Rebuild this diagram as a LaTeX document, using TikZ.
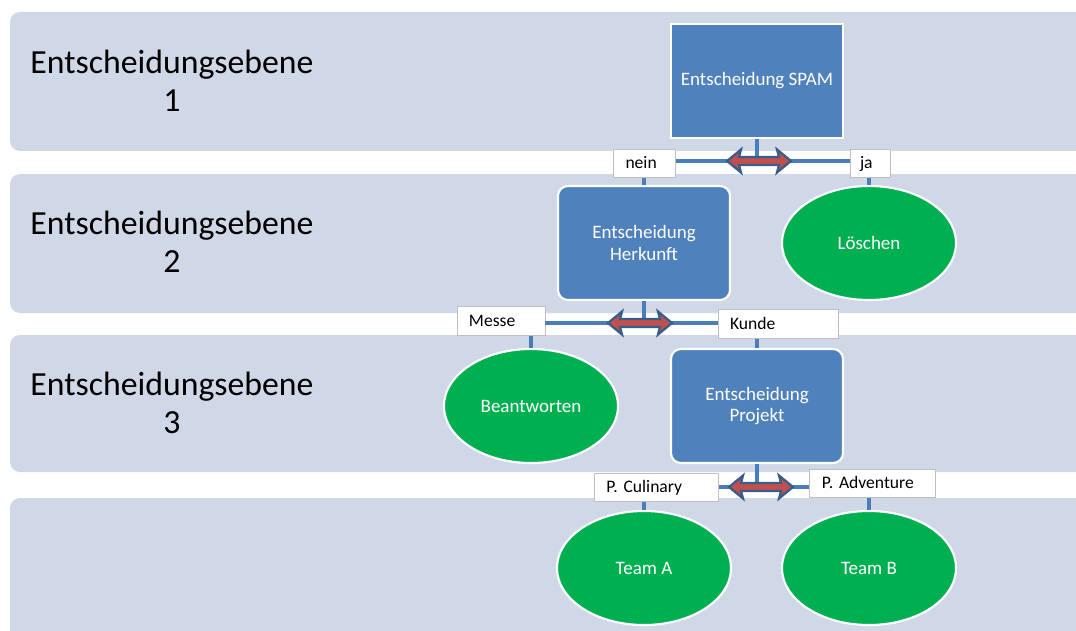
\documentclass[tikz,border=0pt]{standalone}
\usepackage{fontspec}
\setmainfont{Carlito}
\usetikzlibrary{shapes.geometric, positioning}

\definecolor{laneblue}{HTML}{D0D8E8}
\definecolor{boxblue}{HTML}{4F81BD}
\definecolor{goodgreen}{HTML}{00B050}
\definecolor{linkblue}{HTML}{4A7EBB}
\definecolor{swapred}{HTML}{C0504D}
\definecolor{swapline}{HTML}{385D8A}
\definecolor{lblgray}{HTML}{BFBFBF}

\begin{document}
\frenchspacing
\begin{tikzpicture}[
    x=0.025cm, y=-0.025cm,
    lane/.style={fill=laneblue, rounded corners=0.25cm},
    lanetext/.style={align=center, font=\fontsize{24}{27}\selectfont},
    decbox/.style={rectangle, draw=white, line width=1.5pt, fill=boxblue,
                   text=white, align=center, minimum width=4.3cm,
                   minimum height=2.85cm, font=\fontsize{13.5}{15}\selectfont},
    endnode/.style={ellipse, draw=white, line width=1.5pt, fill=goodgreen,
                    text=white, minimum width=4.35cm, minimum height=2.85cm,
                    font=\fontsize{13.5}{15}\selectfont},
    lbl/.style={rectangle, draw=lblgray, fill=white, line width=0.6pt,
                font=\fontsize{12.5}{14}\selectfont, align=left,
                text height=1.9ex, text depth=0.3ex,
                inner xsep=0.3cm, inner ysep=0pt, minimum height=0.72cm},
    link/.style={draw=linkblue, line width=2.5pt},
    swaparrow/.pic={
      \draw[draw=swapline, fill=swapred, line width=1.6pt, line join=miter]
        (-32,0) -- (-18,-11.5) -- (-20,-4) -- (20,-4) -- (18,-11.5)
        -- (32,0) -- (18,11.5) -- (20,4) -- (-20,4) -- (-18,11.5) -- cycle;
    }
  ]
  \useasboundingbox (0,0) rectangle (1076,630);

  % Ebenen
  \fill[lane] (10,12) rectangle (1100,151);
  \fill[lane] (10,174) rectangle (1100,313);
  \fill[lane] (10,335) rectangle (1100,472);
  \fill[lane] (10,498) rectangle (1100,660);
  \node[lanetext] (e1) at (172,81) {Entscheidungsebene\\1};
  \node[lanetext] (e2) at (172,242) {Entscheidungsebene\\2};
  \node[lanetext] (e3) at (172,403) {Entscheidungsebene\\3};

  % Entscheidungen
  \node[decbox] (spam) at (757,81) {Entscheidung SPAM};
  \node[decbox, rounded corners=0.25cm] (herkunft) at (644,243) {Entscheidung\\Herkunft};
  \node[decbox, rounded corners=0.25cm] (projekt) at (757,406) {Entscheidung\\Projekt};

  \node[endnode] (loeschen) at (869,243) {Löschen};
  \node[endnode] (antwort) at (531,406) {Beantworten};
  \node[endnode] (teama) at (644,568) {Team A};
  \node[endnode] (teamb) at (869,568) {Team B};

  % Verzweigungen
  \coordinate (r1) at (759,161);
  \coordinate (r2) at (640,323);
  \coordinate (r3) at (761,487);

  \node[lbl, text width=0.95cm] (nein) at (644.5,163.5) {nein};
  \node[lbl, text width=0.5cm, inner xsep=0.25cm] (ja) at (870,163.5) {ja};
  \node[lbl, text width=1.6cm] (messe) at (501,321) {Messe};
  \node[lbl, text width=2.4cm] (kunde) at (778,324) {Kunde};
  \node[lbl, text width=2.5cm] (culinary) at (656.5,487.5) {P. Culinary};
  \node[lbl, text width=2.53cm] (adventure) at (872.5,483.5) {P. Adventure};

  \draw[link] (spam.south) -- (spam.south |- r1);
  \draw[link] (nein.east |- r1) -- (ja.west |- r1);
  \draw[link] (herkunft.north |- nein.south) -- (herkunft.north);
  \draw[link] (loeschen.north |- ja.south) -- (loeschen.north);
  \pic at (r1) {swaparrow};

  \draw[link] (herkunft.south) -- (herkunft.south |- r2);
  \draw[link] (messe.east |- r2) -- (kunde.west |- r2);
  \draw[link] (antwort.north |- messe.south) -- (antwort.north);
  \draw[link] (projekt.north |- kunde.south) -- (projekt.north);
  \pic at (r2) {swaparrow};

  \draw[link] (projekt.south) -- (projekt.south |- r3);
  \draw[link] (culinary.east |- r3) -- (adventure.west |- r3);
  \draw[link] (teama.north |- culinary.south) -- (teama.north);
  \draw[link] (teamb.north |- adventure.south) -- (teamb.north);
  \pic at (r3) {swaparrow};
\end{tikzpicture}
\end{document}
